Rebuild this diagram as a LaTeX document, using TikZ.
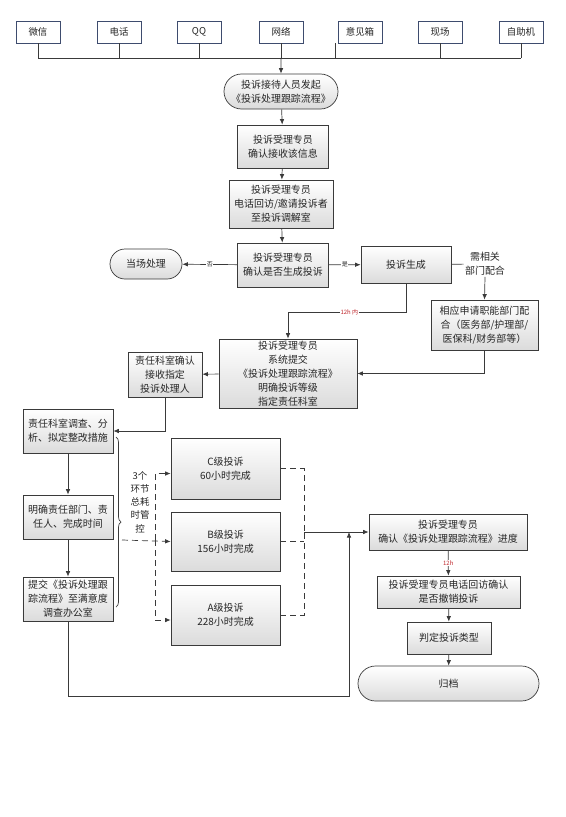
\documentclass[tikz,border=0pt]{standalone}
\usepackage{fontspec}
\setmainfont{Noto Sans CJK SC}
\usetikzlibrary{shapes.misc, arrows, arrows.meta, decorations.pathreplacing}
\definecolor{edge}{HTML}{3A3A3A}
\definecolor{srcedge}{HTML}{3E4C6E}
\definecolor{hint}{HTML}{C0282D}
\tikzstyle{src} = [draw=srcedge, fill=white, minimum width=44bp, minimum height=22bp, inner sep=0pt, font=\fontsize{9.5}{11}\selectfont]
\tikzstyle{proc} = [draw=edge, top color=white, bottom color=black!14, align=center, inner sep=1pt, font=\fontsize{10}{14}\selectfont]
\tikzstyle{term} = [proc, rounded rectangle]
\tikzstyle{word} = [align=center, inner sep=1pt, font=\fontsize{10}{14}\selectfont]
\tikzstyle{tag} = [fill=white, inner sep=0.6pt, font=\fontsize{6}{6.5}\selectfont]

\begin{document}
\begin{tikzpicture}[x=1bp, y=-1bp, >={Latex[length=5.5bp,width=4.5bp]}, line width=0.7bp, draw=edge, text=black!85]
\useasboundingbox (0,0) rectangle (566,817);

%nodes
\node (1) [src] at (38,32) {微信};
\node (2) [src] at (119,32) {电话};
\node (3) [src] at (199,32) {QQ};
\node (4) [src] at (281,32) {网络};
\node (5) [src] at (360,32) {意见箱};
\node (6) [src] at (440,32) {现场};
\node (7) [src] at (521,32) {自助机};
\coordinate (bus) at (0,58);

\node (8) [term, minimum width=116bp, minimum height=35bp] at (281,91.5) {投诉接待人员发起\\《投诉处理跟踪流程》};
\node (9) [proc, minimum width=91bp, minimum height=43bp] at (283,146.5) {投诉受理专员\\确认接收该信息};
\node (10) [proc, minimum width=104bp, minimum height=48bp] at (281,204) {投诉受理专员\\电话回访/邀请投诉者\\至投诉调解室};
\node (11) [proc, minimum width=91bp, minimum height=44bp] at (283,265) {投诉受理专员\\确认是否生成投诉};
\node (12) [term, minimum width=74bp, minimum height=30bp] at (146,264) {当场处理};
\node (13) [proc, minimum width=90bp, minimum height=37bp] at (406,264.5) {投诉生成};
\node (14) [word] at (485,264) {需相关\\部门配合};
\node (15) [proc, minimum width=107bp, minimum height=50bp] at (484.5,325) {相应申请职能部门配\\合（医务部/护理部/\\医保科/财务部等）};
\node (16) [proc, minimum width=138bp, minimum height=69bp] at (288,373.5) {投诉受理专员\\系统提交\\《投诉处理跟踪流程》\\明确投诉等级\\指定责任科室};
\node (17) [proc, minimum width=74bp, minimum height=45bp] at (165,374.5) {责任科室确认\\接收指定\\投诉处理人};

\node (18) [proc, minimum width=90bp, minimum height=44bp] at (68,431) {责任科室调查、分\\析、拟定整改措施};
\node (19) [proc, minimum width=90bp, minimum height=44bp] at (68,517) {明确责任部门、责\\任人、完成时间};
\node (20) [proc, minimum width=90bp, minimum height=44bp] at (68,599) {提交《投诉处理跟\\踪流程》至满意度\\调查办公室};

\node (21) [proc, minimum width=109bp, minimum height=61bp] at (225.5,468.5) {C级投诉\\60小时完成};
\node (22) [proc, minimum width=109bp, minimum height=59bp] at (225.5,541.5) {B级投诉\\156小时完成};
\node (23) [proc, minimum width=109bp, minimum height=60bp] at (225.5,615) {A级投诉\\228小时完成};
\node (24) [word, font=\fontsize{9.5}{13.3}\selectfont] at (140,502) {3个\\环节\\总耗\\时管\\控};
\coordinate (tip) at (122,540);
\coordinate (split) at (155,540);
\coordinate (merge) at (304,532);

\node (25) [proc, minimum width=158bp, minimum height=36bp] at (448,532) {投诉受理专员\\确认《投诉处理跟踪流程》进度};
\node (26) [proc, minimum width=143bp, minimum height=32bp] at (448.5,592) {投诉受理专员电话回访确认\\是否撤销投诉};
\node (27) [proc, minimum width=84bp, minimum height=32bp] at (449,638) {判定投诉类型};
\node (28) [term, minimum width=183bp, minimum height=35bp] at (448.5,683.5) {归档};
\coordinate (back) at (349,696);
\coordinate (join) at (349,532);

%arrows
\foreach \n in {1,2,3,4,6,7}
  \draw (\n.south) -- (\n.south |- bus);
\draw ([xshift=-2bp]5.south west) -- ([xshift=-2bp]5.south west |- bus);
\draw (1.south |- bus) -- (7.south |- bus);
\draw [->] (bus -| 8.north) -- (8);

\draw [->] (8) -- (9);
\draw [->] (9) -- (10);
\draw [->] (10) -- (11);
\draw [->] (11) -- node[tag]{否} (12);
\draw [->] (11) -- node[tag]{是} (13);
\draw (13) -- (14);
\draw [->] (14.south) -- (15.north);
\draw [->] (13.south) -- ++(0,29) -| node[tag, pos=0.24, text=hint]{12h 内} (16.north);
\draw [->] (15.south) |- (16.east);
\draw [->] (16) -- (17);
\draw [->] (17.south) |- (18.east);

\draw [->] (18) -- (19);
\draw [->] (19) -- (20);
\draw [decorate, decoration={brace, amplitude=5bp}] (116,437) -- (116,607);
\draw [->, dash pattern=on 6bp off 4bp] (tip) -- (22.west);
\draw [->, dash pattern=on 6bp off 4bp] (split) |- ([yshift=-5bp]21.west);
\draw [->, dash pattern=on 6bp off 4bp] (split) |- ([yshift=-5bp]23.west);
\draw [dash pattern=on 6bp off 4bp] (21.east) -| (merge);
\draw [dash pattern=on 6bp off 4bp] (23.east) -| (merge);
\draw [dash pattern=on 6bp off 4bp] (22.east) -- (22.east -| merge);
\draw [->] (merge) -- (25.west);
\draw [->] (20.south) |- (back) -- (join);

\draw [->] (25) -- node[tag, text=hint]{12h} (26);
\draw [->] (26) -- (27);
\draw [->] (27) -- (28);

\end{tikzpicture}
\end{document}
